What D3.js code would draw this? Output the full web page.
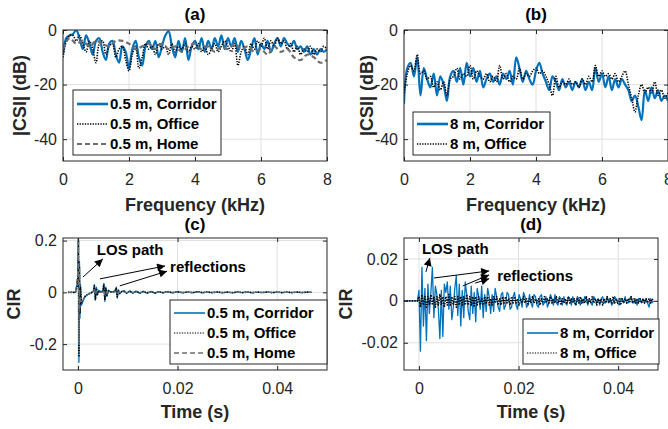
<!DOCTYPE html>
<html>
<head>
<meta charset="utf-8">
<script src="https://cdn.jsdelivr.net/npm/d3@7"></script>
<style>
  body { margin: 0; background: #fff; }
  text { font-family: "Liberation Sans", Arial, sans-serif; }
</style>
</head>
<body>
<svg id="fig" width="668" height="429"></svg>
<script>
// ---- data ----
// CSI magnitude (dB), sampled every 0.1 kHz from 0 to 8 kHz (home: every 0.2 kHz)
var freqStep = 0.1, freqStepHome = 0.2;
var csiCorridor05 = [-9,-3,-2,-1.5,0,-3,-7,-2,-5,-9, -4,-3,-8,-11,-5,-4,-9,-12,-6,-8,
  -14,-7,-4,-10,-13,-6,-4,-7,-4,-10, -6,-2,-0.5,-6,-10,-4,-8,-3,-11,-6,
  -4,-7,-3,-8,-4,-7,-3,-6,-2,-7, -3,-6,-3,-8,-4,-7,-11,-7,-3,-9,
  -5,-7,-4,-8,-5,-3,-6,-3,-5,-6, -4,-7,-6,-8,-6,-9,-7,-9,-7,-8,-7];
var csiOffice05 = [-10,-4,-2,-2,-4,-2,-5,-8,-4,-7, -12,-5,-4,-9,-6,-5,-10,-7,-6,-11,
  -15,-9,-6,-14,-10,-5,-7,-6,-9,-5, -7,-6,-9,-5,-8,-6,-7,-5,-8,-6,
  -7,-5,-8,-6,-9,-7,-5,-8,-6,-4, -6,-8,-5,-13,-8,-6,-9,-5,-7,-4,
  -6,-3,-7,-4,-6,-3,-5,-4,-7,-5, -8,-6,-9,-7,-8,-6,-9,-7,-8,-6,-7];
var csiHome05 = [-7,-3,-5,-4,-6,-4,-5,-6,-4,-4, -5,-7,-6,-5,-7,-5,-7,-6,-8,-6,
  -5,-7,-6,-8,-6,-7,-5,-7,-6,-8, -7,-9,-6,-8,-7,-10,-11,-9,-10,-12,-11];
var csiCorridor8 = [-27,-14,-12,-17,-10,-24,-14,-18,-21,-16, -24,-17,-20,-26,-17,-15,-19,-14,-20,-12,
  -17,-14,-19,-15,-21,-18,-16,-19,-17,-20, -16,-18,-15,-20,-10,-14,-19,-15,-18,-20,
  -15,-12,-16,-19,-22,-17,-19,-22,-18,-21, -19,-22,-19,-21,-18,-22,-19,-22,-14,-19,
  -16,-21,-17,-22,-18,-21,-18,-20,-22,-26, -24,-28,-33,-22,-26,-21,-25,-22,-26,-24,-26];
var csiOffice8 = [-23,-16,-13,-15,-9,-16,-15,-18,-17,-21, -19,-22,-19,-24,-18,-17,-14,-18,-16,-17,
  -13,-18,-15,-17,-18,-16,-19,-17,-19,-13, -18,-16,-19,-17,-18,-14,-18,-16,-17,-15,
  -14,-16,-15,-17,-20,-24,-17,-21,-19,-20, -18,-20,-19,-21,-18,-20,-17,-19,-13,-17,
  -15,-17,-16,-18,-16,-19,-17,-15,-20,-25, -30,-24,-20,-23,-21,-23,-19,-24,-22,-25,-23];

// CIR at 0.5 m, time instants (s)
var cirTime05 = [-0.002,-0.0005,0,0.0001,0.0002,0.0003,0.0004,0.0005,0.0007,0.001,
  0.0013,0.0017,0.0022,0.0027,0.0031,0.0033,0.0035,0.0037,0.0039,0.0042,
  0.0046,0.005,0.0052,0.0054,0.0056,0.0058,0.0061,0.0065,0.007,0.0074,
  0.0077,0.0079,0.0081,0.0084,0.0088,0.0093,0.0098,0.0104,0.011,0.0117,
  0.0124,0.0131,0.0139,0.0147,0.0155,0.0163,0.0171,0.018,0.019,0.02,
  0.021,0.022,0.023,0.024,0.025,0.026,0.027,0.028,0.029,0.03,
  0.031,0.032,0.033,0.034,0.035,0.036,0.037,0.038,0.039,0.04,
  0.041,0.042,0.043,0.044,0.045,0.046,0.047];
var cirCorridor05 = [0,0,0.05,0.22,-0.27,0.12,-0.1,0.03,-0.05,-0.035,
  -0.02,-0.012,-0.006,-0.002,0.004,0.03,-0.03,0.02,-0.01,0.008,
  0.002,0.006,0.035,-0.035,0.02,-0.015,0.008,0.002,0.003,0.004,
  0.02,-0.022,0.01,-0.006,0.004,0.006,-0.004,0.006,-0.003,0.005,
  -0.004,0.004,-0.003,0.004,-0.003,0.003,-0.002,0.003,-0.002,0.003,
  -0.002,0.002,-0.002,0.003,-0.002,0.002,-0.001,0.002,-0.002,0.001,
  -0.002,0.002,-0.001,0.002,-0.002,0.001,-0.001,0.002,-0.001,0.001,
  -0.001,0.001,-0.001,0.001,-0.001,0.001,0];
var cirOffice05 = [0,0,0.03,0.2,-0.25,0.1,-0.08,0.02,-0.04,-0.03,
  -0.018,-0.01,-0.005,-0.001,0.003,0.025,-0.028,0.015,-0.008,0.006,
  0.001,0.004,0.03,-0.03,0.015,-0.012,0.006,0.001,0.002,0.003,
  0.015,-0.018,0.008,-0.004,0.003,0.004,-0.003,0.004,-0.002,0.003,
  -0.002,0.003,-0.002,0.002,-0.002,0.002,-0.001,0.002,-0.001,0.002,
  -0.001,0.001,-0.001,0.002,-0.001,0.001,-0.001,0.001,-0.001,0.001,
  -0.001,0.001,-0.001,0.001,-0.001,0.001,-0.001,0.001,-0.001,0.001,
  -0.001,0.001,-0.001,0.001,-0.001,0.001,0];
var cirHome05 = [0,0,0.08,0.21,-0.2,0.09,-0.06,-0.02,-0.035,-0.03,
  -0.02,-0.012,-0.006,-0.003,0,0.01,-0.008,0.006,-0.003,0.002,
  0,0.002,0.01,-0.01,0.006,-0.004,0.002,0,0.001,0.001,
  0.005,-0.005,0.003,-0.001,0.001,0.001,-0.001,0.001,0,0.001,
  0,0.001,0,0.001,0,0.001,0,0.001,0,0.001,
  0,0,0,0,0,0,0,0,0,0, 0,0,0,0,0,0,0,0,0,0, 0,0,0,0,0,0,0];

// CIR at 8 m, sampled every 0.3 ms starting at -3 ms
var cirStart8 = -0.003, cirStep8 = 0.0003;
var cirCorridor8 = [0,0,0,0,0,0,0,0,0,0,
  0.005,-0.024,0.016,-0.012,0.006,-0.019,0.008,-0.006,0.004,0.016,
  -0.008,0.007,0.003,-0.004,-0.018,0.005,-0.017,0.008,0.004,0.009,
  -0.004,0.007,-0.009,-0.003,0.006,0.012,-0.007,0.008,-0.012,0.005,
  -0.008,0.009,0.003,-0.005,-0.009,0.007,-0.006,0.004,-0.010,0.006,
  0.002,-0.004,0.007,-0.008,0.003,-0.005,0.006,0.002,-0.006,0.003,
  -0.005,0.006,0.002,-0.003,-0.005,0.003,0.004,-0.004,-0.002,0.004,
  0.003,-0.004,-0.003,0.002,0.004,-0.002,-0.004,0.003,0.001,-0.003,
  0.004,0.002,-0.003,-0.002,0.003,-0.001,-0.003,0.003,0.002,-0.002,
  -0.003,0.002,0.003,-0.002,-0.001,0.002,-0.003,-0.001,0.003,0.001,
  -0.002,0.003,-0.001,-0.002,0.002,0.001,-0.002,0.002,-0.001,-0.002,
  0.002,0.001,-0.002,0.002,-0.001,-0.002,0.002,0.001,-0.002,0.001,
  -0.001,0.002,0.001,-0.002,0.001,-0.001,-0.002,0.002,0.001,-0.001,
  0.001,-0.002,0.001,0.002,-0.001,-0.001,0.002,-0.001,0.001,-0.002,
  -0.001,0.002,0.001,-0.001,-0.002,0.001,0.001,-0.001,0.002,-0.001,
  -0.001,0.001,0.002,-0.001,-0.001,0.001,-0.002,0.001,0.001,-0.001,
  0.001,-0.001,0.001,-0.001,-0.003,0.001,-0.001,0];
var cirOffice8 = [0,0,0,0,0,0,0,0,0,0,
  0.002,-0.003,0.003,-0.002,0.002,-0.003,0.002,-0.002,0.003,-0.002,
  0.002,-0.003,0.002,-0.002,0.003,-0.002,0.002,-0.003,0.002,-0.002,
  0.003,-0.002,0.002,-0.002,0.002,-0.003,0.002,-0.002,0.002,-0.002,
  0.002,-0.002,0.003,-0.002,0.002,-0.002,0.002,-0.003,0.002,-0.002,
  0.002,-0.002,0.001,-0.002,0.002,-0.001,0.002,-0.002,0.001,-0.002,
  0.002,-0.001,0.002,-0.002,0.001,-0.002,0.002,-0.001,0.002,-0.001,
  0.001,-0.002,0.002,-0.001,0.002,-0.001,0.001,-0.002,0.001,-0.001,
  0.002,-0.001,0.001,-0.002,0.001,-0.001,0.002,-0.001,0.001,-0.001,
  0.001,-0.002,0.001,-0.001,0.002,-0.001,0.001,-0.001,0.002,-0.001,
  0.001,-0.001,0.002,-0.001,0.001,-0.002,0.001,-0.001,0.001,-0.001,
  0.002,-0.001,0.001,-0.001,0.001,-0.002,0.001,-0.001,0.002,-0.001,
  0.001,-0.001,0.002,-0.001,0.001,-0.001,0.002,-0.001,0.001,-0.002,
  0.001,-0.001,0.001,-0.002,0.001,-0.001,0.002,-0.001,0.001,-0.001,
  0.002,-0.001,0.001,-0.001,0.001,-0.002,0.001,-0.001,0.001,-0.001,
  0.001,-0.001,0.002,-0.001,0.001,-0.001,0.001,-0.001,0.001,-0.001,
  0.001,-0.001,0.001,-0.001,0.001,-0.001,0.001,0];

// tick labels
var csiFreqTicks = [0, 2, 4, 6, 8];
var csiDbTicks = [-40, -20, 0];
var cirTimeTicks = [0, 0.02, 0.04];
var cir05Ticks = [-0.2, 0, 0.2];
var cir8Ticks = [-0.02, 0, 0.02];

// ---- styles ----
var BLUE = "#0072bd", AX = "#262626", GRID = "#e0e0e0", GRAY = "#6e6e6e";
var thick = {corr: 2.2, off: 1.6, home: 2.2}, thin = {corr: 1.3, off: 1.6, home: 1.3};

function styleFor(kind, w) {
  if (kind == "corr") return {stroke: BLUE, width: w.corr, dash: null};
  if (kind == "off") return {stroke: "#000", width: w.off, dash: "1.3,1.3"};
  return {stroke: GRAY, width: w.home, dash: "5,3"};
}

var svg = d3.select("#fig");
var defs = svg.append("defs");
defs.append("marker").attr("id", "arrow")
    .attr("viewBox", "0 0 10 10").attr("refX", 10).attr("refY", 5)
    .attr("markerUnits", "userSpaceOnUse")
    .attr("markerWidth", 10).attr("markerHeight", 8).attr("orient", "auto")
  .append("path").attr("d", "M0,0L10,5L0,10z").attr("fill", "#000");

function fmt(d) { return String(d); }

function panel(o) {
  var x = d3.scaleLinear().domain(o.xDom).range([o.left, o.right]);
  var y = d3.scaleLinear().domain(o.yDom).range([o.bottom, o.top]);
  var h = o.bottom - o.top, w = o.right - o.left;
  var g = svg.append("g");

  defs.append("clipPath").attr("id", "clip" + o.id)
    .append("rect").attr("x", o.left).attr("y", o.top).attr("width", w).attr("height", h);

  // grid
  g.append("g").selectAll("line").data(o.xTicks).enter().append("line")
    .attr("x1", d => x(d)).attr("x2", d => x(d)).attr("y1", o.top).attr("y2", o.bottom)
    .attr("stroke", GRID).attr("stroke-width", 1);
  g.append("g").selectAll("line").data(o.yTicks).enter().append("line")
    .attr("y1", d => y(d)).attr("y2", d => y(d)).attr("x1", o.left).attr("x2", o.right)
    .attr("stroke", GRID).attr("stroke-width", 1);

  // series
  var lines = g.append("g").attr("clip-path", "url(#clip" + o.id + ")");
  o.series.forEach(function(s) {
    var st = styleFor(s.kind, o.widths);
    var line = d3.line().x((v, i) => x(s.xAt(i))).y(v => y(v)).curve(o.curve);
    lines.append("path").datum(s.values)
      .attr("d", line).attr("fill", "none")
      .attr("stroke", st.stroke).attr("stroke-width", st.width)
      .attr("stroke-dasharray", st.dash).attr("stroke-linejoin", "round");
  });

  // axes (ticks inside, MATLAB style)
  var ax = g.append("g").attr("fill", AX);
  ax.append("g").attr("transform", "translate(0," + o.bottom + ")")
    .call(d3.axisBottom(x).tickValues(o.xTicks).tickFormat(fmt).tickSizeInner(-4).tickSizeOuter(0).tickPadding(13));
  ax.append("g").attr("transform", "translate(" + o.left + ",0)")
    .call(d3.axisLeft(y).tickValues(o.yTicks).tickFormat(fmt).tickSizeInner(-4).tickSizeOuter(0).tickPadding(6));
  ax.append("g").attr("transform", "translate(0," + o.top + ")")
    .call(d3.axisTop(x).tickValues(o.xTicks).tickFormat("").tickSizeInner(-4).tickSizeOuter(0));
  ax.append("g").attr("transform", "translate(" + o.right + ",0)")
    .call(d3.axisRight(y).tickValues(o.yTicks).tickFormat("").tickSizeInner(-4).tickSizeOuter(0));
  ax.selectAll(".domain").remove();
  ax.selectAll(".tick line").attr("stroke", AX);
  ax.selectAll(".tick text").attr("fill", AX).style("font-size", "16px")
    .style("font-family", '"Liberation Sans", Arial, sans-serif');
  g.append("rect").attr("x", o.left).attr("y", o.top).attr("width", w).attr("height", h)
    .attr("fill", "none").attr("stroke", AX).attr("stroke-width", 1);

  // titles and labels
  g.append("text").attr("x", (o.left + o.right) / 2).attr("y", o.titleY)
    .attr("text-anchor", "middle").attr("font-weight", "bold").attr("font-size", 17)
    .attr("fill", "#000").text(o.title);
  g.append("text").attr("x", (o.left + o.right) / 2).attr("y", o.xLabelY)
    .attr("text-anchor", "middle").attr("font-weight", "bold").attr("font-size", 18)
    .attr("fill", AX).text(o.xLabel);
  g.append("text")
    .attr("transform", "translate(" + o.yLabelX + "," + (o.top + o.bottom) / 2 + ") rotate(-90)")
    .attr("text-anchor", "middle").attr("font-weight", "bold").attr("font-size", 18)
    .attr("fill", AX).text(o.yLabel);

  // annotations
  (o.notes || []).forEach(function(n) {
    g.append("text").attr("x", x(n.t)).attr("y", y(n.v)).attr("dy", "0.35em")
      .attr("font-weight", "bold").attr("font-size", 15).attr("fill", "#000").text(n.text);
  });
  (o.arrows || []).forEach(function(a) {
    g.append("line").attr("x1", x(a[0])).attr("y1", y(a[1])).attr("x2", x(a[2])).attr("y2", y(a[3]))
      .attr("stroke", "#000").attr("stroke-width", 1).attr("marker-end", "url(#arrow)");
  });

  // legend
  var L = o.legend;
  var lg = g.append("g");
  lg.append("rect").attr("x", L.x).attr("y", L.y).attr("width", L.w).attr("height", L.h)
    .attr("fill", "#fff").attr("stroke", AX).attr("stroke-width", 1);
  o.series.forEach(function(s, i) {
    var st = styleFor(s.kind, L.widths);
    var ry = L.y + L.rowTop + i * L.rowGap;
    lg.append("line").attr("x1", L.x + 4).attr("x2", L.x + 35).attr("y1", ry).attr("y2", ry)
      .attr("stroke", st.stroke).attr("stroke-width", st.width).attr("stroke-dasharray", st.dash);
    lg.append("text").attr("x", L.x + 37).attr("y", ry).attr("dy", "0.35em")
      .attr("font-weight", "bold").attr("font-size", 15).attr("fill", "#000").text(s.name);
  });
}

var byFreq = i => i * freqStep, byFreqHome = i => i * freqStepHome;
var byT05 = i => cirTime05[i], byT8 = i => cirStart8 + i * cirStep8;
var smooth = d3.curveCatmullRom.alpha(0.5);

panel({
  id: "a", left: 63, right: 327, top: 30, bottom: 161,
  xDom: [0, 8], yDom: [-48, 0], xTicks: csiFreqTicks, yTicks: csiDbTicks,
  title: "(a)", titleY: 20, xLabel: "Frequency (kHz)", xLabelY: 211, yLabel: "|CSI| (dB)", yLabelX: 26,
  curve: smooth, widths: thick,
  series: [
    {name: "0.5 m, Corridor", kind: "corr", values: csiCorridor05, xAt: byFreq},
    {name: "0.5 m, Office", kind: "off", values: csiOffice05, xAt: byFreq},
    {name: "0.5 m, Home", kind: "home", values: csiHome05, xAt: byFreqHome}
  ],
  legend: {x: 73, y: 90, w: 148, h: 65, rowTop: 14, rowGap: 20, widths: {corr: 2.6, off: 1.6, home: 2.2}}
});

panel({
  id: "b", left: 404, right: 668, top: 30, bottom: 161,
  xDom: [0, 8], yDom: [-48, 0], xTicks: csiFreqTicks, yTicks: csiDbTicks,
  title: "(b)", titleY: 20, xLabel: "Frequency (kHz)", xLabelY: 211, yLabel: "|CSI| (dB)", yLabelX: 373,
  curve: smooth, widths: thick,
  series: [
    {name: "8 m, Corridor", kind: "corr", values: csiCorridor8, xAt: byFreq},
    {name: "8 m, Office", kind: "off", values: csiOffice8, xAt: byFreq}
  ],
  legend: {x: 413, y: 112, w: 137, h: 43, rowTop: 12, rowGap: 20, widths: {corr: 2.6, off: 1.6, home: 2.2}}
});

panel({
  id: "c", left: 63, right: 327, top: 238, bottom: 370,
  xDom: [-0.003, 0.05], yDom: [-0.3, 0.21], xTicks: cirTimeTicks, yTicks: cir05Ticks,
  title: "(c)", titleY: 230, xLabel: "Time (s)", xLabelY: 418, yLabel: "CIR", yLabelX: 20,
  curve: d3.curveLinear, widths: thin,
  series: [
    {name: "0.5 m, Corridor", kind: "corr", values: cirCorridor05, xAt: byT05},
    {name: "0.5 m, Office", kind: "off", values: cirOffice05, xAt: byT05},
    {name: "0.5 m, Home", kind: "home", values: cirHome05, xAt: byT05}
  ],
  notes: [{text: "LOS path", t: 0.0038, v: 0.164}, {text: "reflections", t: 0.0185, v: 0.098}],
  arrows: [[0.001, 0.059, 0.005, 0.129], [0.0044, 0.052, 0.0175, 0.102], [0.0084, 0.025, 0.0179, 0.082]],
  legend: {x: 170, y: 300, w: 157, h: 64, rowTop: 13, rowGap: 20, widths: {corr: 1.6, off: 1.2, home: 1.6}}
});

panel({
  id: "d", left: 404, right: 658, top: 238, bottom: 370,
  xDom: [-0.003, 0.048], yDom: [-0.033, 0.03], xTicks: cirTimeTicks, yTicks: cir8Ticks,
  title: "(d)", titleY: 230, xLabel: "Time (s)", xLabelY: 418, yLabel: "CIR", yLabelX: 352,
  curve: d3.curveLinear, widths: thin,
  series: [
    {name: "8 m, Corridor", kind: "corr", values: cirCorridor8, xAt: byT8},
    {name: "8 m, Office", kind: "off", values: cirOffice8, xAt: byT8}
  ],
  notes: [{text: "LOS path", t: 0.0006, v: 0.0248}, {text: "reflections", t: 0.0157, v: 0.0119}],
  arrows: [[0.0014, 0.0138, 0.0022, 0.0205], [0.003, 0.0109, 0.0141, 0.0143],
           [0.0088, 0.0071, 0.0141, 0.0124], [0.0113, 0.0085, 0.0141, 0.0105]],
  legend: {x: 523, y: 319, w: 136, h: 45, rowTop: 14, rowGap: 20, widths: {corr: 1.6, off: 1.2, home: 1.6}}
});
</script>
</body>
</html>
